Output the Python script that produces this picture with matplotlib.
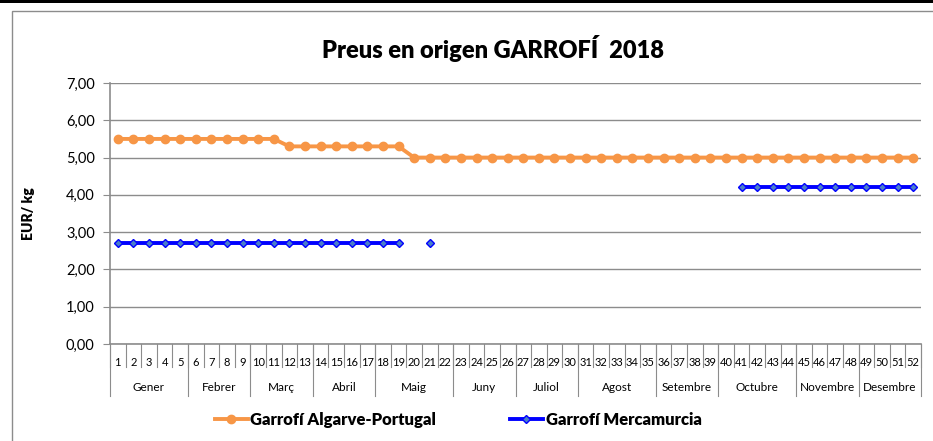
import numpy as np
import matplotlib
matplotlib.use("Agg")
import matplotlib.pyplot as plt
from matplotlib.patches import Rectangle
from matplotlib.lines import Line2D

plt.rcParams['font.family'] = ['Lato', 'DejaVu Sans']

# ---- data ----
weeks = np.arange(1, 53)
algarve = [5.50] * 11 + [5.30] * 8 + [5.00] * 33
mercamurcia = [2.70] * 19 + [np.nan, 2.70] + [np.nan] * 19 + [4.20] * 12

months = ['Gener', 'Febrer', 'Març', 'Abril', 'Maig', 'Juny', 'Juliol',
          'Agost', 'Setembre', 'Octubre', 'Novembre', 'Desembre']
month_weeks = [5, 4, 4, 4, 5, 4, 4, 5, 4, 5, 4, 4]

title = 'Preus en origen GARROFÍ  2018'
ylabel = 'EUR/ kg'
label_alg = 'Garrofí Algarve-Portugal'
label_mer = 'Garrofí Mercamurcia'

orange = '#F79646'
blue = '#0000FF'
grid_col = '#8C8C8C'

W, H = 933, 441
fig = plt.figure(figsize=(W / 100, H / 100), dpi=100)

# chart frame like Excel
fig.patches.append(Rectangle((12 / W, -0.1), 2, 1 - 11 / H + 0.1, transform=fig.transFigure,
                             fill=False, edgecolor='#8C8C8C', linewidth=1.0))
fig.patches.append(Rectangle((0, 1 - 3 / H), 1, 3 / H, transform=fig.transFigure,
                             facecolor='black', edgecolor='none'))

left, right, top, bottom = 110, 921, 83, 344
ax = fig.add_axes([left / W, 1 - bottom / H, (right - left) / W, (bottom - top) / H])

ax.plot(weeks, algarve, color=orange, linewidth=2.8, marker='o', markersize=6,
        markerfacecolor=orange, markeredgecolor=orange, zorder=3)
ax.plot(weeks, mercamurcia, color=blue, linewidth=2.8, marker='D', markersize=4.2,
        markerfacecolor='#4A7EC8', markeredgecolor=blue, markeredgewidth=1.0, zorder=3)

ax.set_xlim(0.5, 52.5)
ax.set_ylim(0, 7)
ax.set_yticks(np.arange(0, 8, 1))
ax.set_yticklabels([f'{v:.2f}'.replace('.', ',') for v in np.arange(0, 8, 1)], fontsize=10.5)
ax.yaxis.grid(True, color=grid_col, linewidth=1.0)
ax.set_axisbelow(True)
ax.set_xticks([])
for s in ['top', 'right']:
    ax.spines[s].set_visible(False)
for s in ['left', 'bottom']:
    ax.spines[s].set_color(grid_col)
    ax.spines[s].set_linewidth(1.2)
ax.tick_params(axis='y', length=5, color=grid_col, pad=6)

ax.set_ylabel(ylabel, fontsize=10, fontweight='heavy', labelpad=22)

# category axis (weeks + months)
xt = ax.get_xaxis_transform()
for w in weeks:
    ax.text(w, -0.069, str(w), transform=xt, ha='center', va='center', fontsize=8)
for b in np.arange(0.5, 53, 1):
    ax.plot([b, b], [0, -0.09], transform=xt, color=grid_col, linewidth=0.8, clip_on=False)
edges = np.concatenate([[0.5], 0.5 + np.cumsum(month_weeks)])
for b in edges:
    ax.plot([b, b], [0, -0.2], transform=xt, color=grid_col, linewidth=0.8, clip_on=False)
for m, a, b in zip(months, edges[:-1], edges[1:]):
    ax.text((a + b) / 2, -0.165, m, transform=xt, ha='center', va='center', fontsize=8.5)

fig.text(493 / W, 1 - 48 / H, title, ha='center', va='center', fontsize=17, fontweight='heavy')

handles = [Line2D([], [], color=orange, linewidth=2.8, marker='o', markersize=6),
           Line2D([], [], color=blue, linewidth=2.8, marker='D', markersize=4.2,
                  markerfacecolor='#4A7EC8', markeredgecolor=blue)]
fig.legend(handles, [label_alg, label_mer], loc='center', bbox_to_anchor=(458 / W, 1 - 420 / H),
           ncol=2, frameon=False, prop={'weight': 'heavy', 'size': 12},
           handlelength=2.0, handletextpad=0.15, columnspacing=4.4)

fig.savefig('out.png', dpi=100)
